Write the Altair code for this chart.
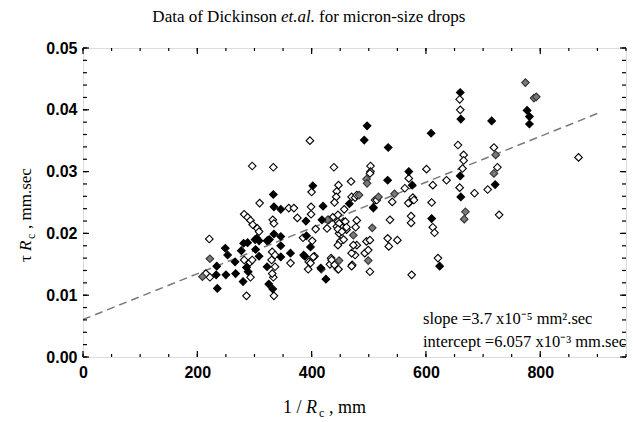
import altair as alt
import pandas as pd

# ---------------- data ----------------
open_x = [397, 656, 666, 666, 664, 719, 725, 439, 503, 503, 570, 563, 601, 612, 636, 659, 685, 708,
          400, 447, 444, 443, 469, 470, 577, 867, 296, 333, 659, 660,
          502, 440, 511, 309, 360, 369, 399, 399, 375, 282, 288, 293, 297, 305, 308, 332, 334,
          437, 446, 427, 385, 401, 221, 457, 476, 479, 407, 444, 456, 461, 448,
          331, 336, 282, 292, 296, 215, 222, 293, 333, 334, 286, 330, 336, 331, 363, 395, 394,
          405, 432, 446, 434, 471, 476, 479, 430, 446, 448, 459, 446, 453, 461, 450, 446, 456,
          479, 477, 470, 473, 435, 440, 447, 398, 403, 470, 502, 493, 499, 496, 502, 533, 535,
          550, 537, 574, 574, 612, 615, 728, 621, 575, 571, 579, 610, 541, 569, 514]
open_y = [0.0350, 0.0343, 0.0327, 0.0318, 0.0305, 0.0339, 0.0307, 0.0307, 0.0309, 0.0300, 0.0289,
          0.0273, 0.0304, 0.0278, 0.0286, 0.0274, 0.0265, 0.0271,
          0.0267, 0.0278, 0.0268, 0.0259, 0.0284, 0.0259, 0.0258, 0.0323, 0.0309, 0.0307, 0.0417, 0.0400,
          0.0297, 0.0250, 0.0254, 0.0249, 0.0241, 0.0241, 0.0243, 0.0231, 0.0225, 0.0231, 0.0226,
          0.0221, 0.0214, 0.0208, 0.0203, 0.0222, 0.0216,
          0.0226, 0.0219, 0.0208, 0.0193, 0.0188, 0.0191, 0.0239, 0.0258, 0.0262, 0.0207, 0.0211,
          0.0219, 0.0206, 0.0200,
          0.0170, 0.0165, 0.0157, 0.0153, 0.0157, 0.0135, 0.0129, 0.0129, 0.0129, 0.0099, 0.0099,
          0.0157, 0.0146, 0.0135, 0.0152, 0.0154, 0.0142,
          0.0163, 0.0150, 0.0142, 0.0160, 0.0149, 0.0165, 0.0181, 0.0222, 0.0230, 0.0216, 0.0219,
          0.0207, 0.0203, 0.0210, 0.0187, 0.0181, 0.0190,
          0.0221, 0.0210, 0.0168, 0.0181, 0.0157, 0.0149, 0.0142, 0.0152, 0.0162, 0.0147, 0.0138,
          0.0168, 0.0173, 0.0187, 0.0189, 0.0192, 0.0179,
          0.0189, 0.0222, 0.0228, 0.0217, 0.0210, 0.0201, 0.0230, 0.0160, 0.0133, 0.0250, 0.0254,
          0.0250, 0.0251, 0.0249, 0.0254]

black_x = [660, 777, 781, 781, 661, 715, 609, 497, 492, 534, 570, 576, 533, 660, 661, 721, 402, 333,
           334, 346, 420, 390, 418, 466, 508, 391, 334, 346, 304, 308, 288, 281, 277, 302, 249, 253,
           324, 301, 322, 326, 308, 286, 289, 266, 267, 250, 234, 233, 280, 325, 332, 235, 322, 346,
           346, 363, 388, 425, 416, 386, 398, 610, 624]
black_y = [0.0428, 0.0399, 0.0389, 0.0377, 0.0385, 0.0382, 0.0362, 0.0374, 0.0351, 0.0339, 0.0300,
           0.0278, 0.0286, 0.0293, 0.0259, 0.0279, 0.0277, 0.0263,
           0.0243, 0.0239, 0.0244, 0.0220, 0.0222, 0.0248, 0.0242, 0.0196, 0.0199, 0.0195, 0.0192,
           0.0188, 0.0185, 0.0184, 0.0172, 0.0174, 0.0176, 0.0165,
           0.0189, 0.0190, 0.0188, 0.0190, 0.0163, 0.0145, 0.0138, 0.0154, 0.0135, 0.0133, 0.0147,
           0.0133, 0.0122, 0.0118, 0.0110, 0.0111, 0.0146, 0.0162,
           0.0180, 0.0168, 0.0163, 0.0126, 0.0144, 0.0165, 0.0178, 0.0224, 0.0147]

gray_x = [774, 789, 793, 722, 719, 496, 497, 483, 517, 545, 222, 428, 473, 209, 417, 448, 499, 506,
          669, 667, 508]
gray_y = [0.0444, 0.0419, 0.0421, 0.0327, 0.0297, 0.0288, 0.0281, 0.0262, 0.0259, 0.0264, 0.0159,
          0.0222, 0.0197, 0.0130, 0.0142, 0.0156, 0.0156, 0.0209, 0.0235, 0.0223, 0.0241]

# least-squares line as drawn (end points)
fit_x = [0, 900]
fit_y = [0.00606, 0.0394]

x_major = [0, 200, 400, 600, 800]
x_minor = list(range(0, 951, 50))
y_major = [0.00, 0.01, 0.02, 0.03, 0.04, 0.05]
y_minor = [round(i * 0.002, 3) for i in range(26)]

title_parts = ["Data of Dickinson", "et.al.", "for micron-size drops"]
ann_lines = ["slope =3.7 x10\u207b\u2075 mm\u00b2.sec", "intercept =6.057 x10\u207b\u00b3 mm.sec"]

# ---------------- layout ----------------
W, H = 543, 309
SERIF = "Liberation Serif"
SANS = "Liberation Sans"

xs = alt.Scale(domain=[0, 950], nice=False, zero=False)
ys = alt.Scale(domain=[0, 0.05], nice=False, zero=False)
x_axis = alt.Axis(values=x_major, format="d", ticks=False, domain=False, grid=False, title=None,
                  labelFont=SANS, labelFontWeight="bold", labelFontSize=16, labelColor="black",
                  labelPadding=7, labelFlush=False)
y_axis = alt.Axis(values=y_major, format=".2f", ticks=False, domain=False, grid=False, title=None,
                  labelFont=SANS, labelFontWeight="bold", labelFontSize=16, labelColor="black",
                  labelPadding=6, labelFlush=False)


def X(f):
    return alt.X(f"{f}:Q", scale=xs, axis=x_axis)


def Y(f):
    return alt.Y(f"{f}:Q", scale=ys, axis=y_axis)


df_open = pd.DataFrame({"x": open_x, "y": open_y})
df_black = pd.DataFrame({"x": black_x, "y": black_y})
df_gray = pd.DataFrame({"x": gray_x, "y": gray_y})
df_fit = pd.DataFrame({"x": fit_x, "y": fit_y})

fit = alt.Chart(df_fit).mark_line(color="#7a7a7a", strokeWidth=1.5, strokeDash=[8, 5]).encode(
    x=X("x"), y=Y("y"))

pt = dict(shape="diamond", size=58, strokeWidth=1.1, opacity=1, filled=True)
p_open = alt.Chart(df_open).mark_point(fill="white", stroke="black", **pt).encode(x=X("x"), y=Y("y"))
p_gray = alt.Chart(df_gray).mark_point(fill="#7a7a7a", stroke="#333333", **pt).encode(x=X("x"), y=Y("y"))
p_black = alt.Chart(df_black).mark_point(fill="black", stroke="black", **pt).encode(x=X("x"), y=Y("y"))

# inward ticks on all four sides
dxM = pd.DataFrame({"v": x_major})
dxm = pd.DataFrame({"v": x_minor})
dyM = pd.DataFrame({"v": y_major})
dym = pd.DataFrame({"v": y_minor})
tk = dict(color="black", strokeWidth=1.2)
ticks = [
    alt.Chart(dxM).mark_rule(**tk).encode(x=X("v"), y=alt.value(H), y2=alt.value(H - 6)),
    alt.Chart(dxM).mark_rule(**tk).encode(x=X("v"), y=alt.value(0), y2=alt.value(6)),
    alt.Chart(dxm).mark_rule(**tk).encode(x=X("v"), y=alt.value(H), y2=alt.value(H - 3)),
    alt.Chart(dxm).mark_rule(**tk).encode(x=X("v"), y=alt.value(0), y2=alt.value(3)),
    alt.Chart(dyM).mark_rule(**tk).encode(y=Y("v"), x=alt.value(0), x2=alt.value(6)),
    alt.Chart(dyM).mark_rule(**tk).encode(y=Y("v"), x=alt.value(W - 6), x2=alt.value(W)),
    alt.Chart(dym).mark_rule(**tk).encode(y=Y("v"), x=alt.value(0), x2=alt.value(4)),
    alt.Chart(dym).mark_rule(**tk).encode(y=Y("v"), x=alt.value(W - 4), x2=alt.value(W)),
]

base = alt.Chart(pd.DataFrame({"a": [0]}))


def txt(s, x, y, size=16, style="normal", align="left", angle=0, baseline="alphabetic", font=SERIF):
    return base.mark_text(text=s, font=font, fontSize=size, fontStyle=style, align=align,
                          baseline=baseline, angle=angle, color="black").encode(
        x=alt.value(x), y=alt.value(y))


TX = 194
texts = [
    txt(title_parts[0], TX, -26, size=17, align="right"),
    txt(title_parts[1], TX + 4, -26, size=17, style="italic"),
    txt(title_parts[2], TX + 42, -26, size=17),
    # annotation
    txt(ann_lines[0], 340, 276, size=16.5),
    txt(ann_lines[1], 340, 299, size=16.5),
    # x-axis title: 1 / R_c , mm
    txt("1 /", 200, 365, size=18),
    txt("R", 223, 365, size=18, style="italic"),
    txt("c", 236, 369, size=12),
    txt(", mm", 246, 365, size=18),
    # y-axis title (rotated): tau R_c , mm.sec
    txt("\u03c4", -52, 214, size=17, angle=270),
    txt("R", -52, 203, size=17, style="italic", angle=270),
    txt("c", -48, 191, size=12, angle=270),
    txt(", mm.sec", -52, 181, size=17, angle=270),
]

chart = alt.layer(fit, p_open, p_gray, p_black, *ticks, *texts).properties(
    width=W, height=H,
    autosize=alt.AutoSizeParams(type="none"),
    padding={"left": 83, "top": 48, "right": 7, "bottom": 65},
).configure_view(stroke="black", strokeWidth=1.5).configure(background="white")

chart.save("out.html", embed_options={"renderer": "svg", "actions": False})
